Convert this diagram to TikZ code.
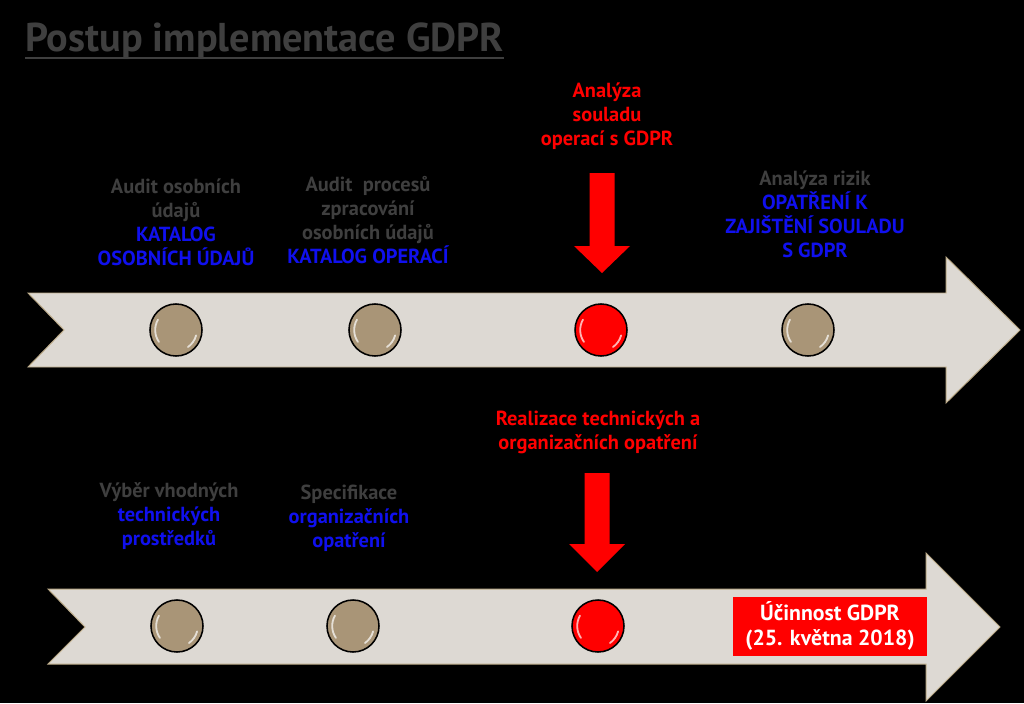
\documentclass[tikz,border=0pt]{standalone}
\usepackage{fontspec}
\setmainfont{PT Sans}
\usetikzlibrary{positioning,calc}
\definecolor{gdprgray}{HTML}{3F3F3F}
\definecolor{gdprblue}{HTML}{1010EE}
\definecolor{gdprred}{HTML}{FF0000}
\definecolor{bandfill}{HTML}{DDD9D3}
\definecolor{bandedge}{HTML}{BBAA88}
\definecolor{knobtan}{HTML}{A99577}
\tikzset{
  bandbody/.style={fill=bandfill, draw=bandedge, line width=0.7pt},
  knob/.style={circle, minimum size=1.3cm, inner sep=0pt, draw=black,
    line width=1.1pt, fill=knobtan},
  knobshine/.style={white, opacity=0.7, line width=1.3pt, line cap=round},
  stepnote/.style={align=center, inner sep=0pt, text=gdprgray,
    font=\bfseries\fontsize{14.5}{17}\selectfont},
  rednote/.style={stepnote, text=gdprred},
  datebox/.style={fill=gdprred, text=white, align=center, inner sep=0pt,
    minimum width=4.825cm, minimum height=1.475cm,
    font=\bfseries\fontsize{15.5}{18}\selectfont},
  titletext/.style={inner sep=0pt, text=gdprgray,
    font=\bfseries\fontsize{28.6}{34}\selectfont},
  titlerule/.style={draw=gdprgray, line width=2pt}
}

\begin{document}
\begin{tikzpicture}[x=0.025cm, y=-0.025cm]
    \fill[black] (0,0) rectangle (1024,703);
    \useasboundingbox (0,0) rectangle (1024,703);
    % title
    \node[titletext, anchor=base west] (title) at (25,52) {Postup implementace GDPR};
    \draw[titlerule] ($(title.base west)+(0,6)$) -- ($(title.base east)+(0,6)$);
    % the two time bands
    \draw[bandbody] (28,293) -- (946,293) -- (946,257) -- (1020,330) -- (946,403)
      -- (946,367) -- (28,367) -- (64,330) -- cycle;
    \draw[bandbody] (48,589) -- (926,589) -- (926,553) -- (1000,627) -- (926,701)
      -- (926,664) -- (48,664) -- (85,627) -- cycle;
    % knobs
    \node[knob] (knobA1) at (176,330) {};
    \node[knob] (knobA2) at (375,330) {};
    \node[knob, fill=gdprred] (knobA3) at (601,330) {};
    \node[knob] (knobA4) at (808,330) {};
    \node[knob] (knobB1) at (177,626) {};
    \node[knob] (knobB2) at (353,626) {};
    \node[knob, fill=gdprred] (knobB3) at (598,626) {};
    \foreach \k in {knobA1,knobA2,knobA3,knobA4,knobB1,knobB2,knobB3} {
      \draw[knobshine] (\k.center) ++(150:0.52cm) arc[start angle=150, end angle=215, radius=0.52cm];
      \draw[knobshine] (\k.center) ++(-55:0.52cm) arc[start angle=-55, end angle=-15, radius=0.52cm];
    }
    % labels, first band
    \node[stepnote] (auditData) at (176,222)
      {Audit osobních\\údajů\\{\color{gdprblue}KATALOG}\\{\color{gdprblue}OSOBNÍCH ÚDAJŮ}};
    \node[stepnote] (auditProc) at (368,220)
      {Audit\ \ procesů\\zpracování\\osobních údajů\\{\color{gdprblue}KATALOG OPERACÍ}};
    \node[rednote] (compliance) at (607,116) {Analýza\\souladu\\operací s GDPR};
    \node[stepnote] (risks) at (815,214)
      {Analýza rizik\\{\color{gdprblue}OPATŘENÍ K}\\{\color{gdprblue}ZAJIŠTĚNÍ SOULADU}\\{\color{gdprblue}S GDPR}};
    % labels, second band
    \node[stepnote] (choice) at (169,516)
      {Výběr vhodných\\{\color{gdprblue}technických}\\{\color{gdprblue}prostředků}};
    \node[stepnote] (spec) at (349,518)
      {Specifikace\\{\color{gdprblue}organizačních}\\{\color{gdprblue}opatření}};
    \node[rednote] (realise) at (598,432)
      {Realizace technických a\\organizačních opatření};
    \node[datebox] (deadline) at (830,626) {Účinnost GDPR\\(25. května 2018)};
    % red drop arrows
    \foreach \cx/\ytop/\ybase/\ytip in {602/173/246/273, 597/473/544/572}
      \fill[gdprred] (\cx-12.5,\ytop) -- (\cx+12.5,\ytop) -- (\cx+12.5,\ybase)
        -- (\cx+28,\ybase) -- (\cx,\ytip) -- (\cx-28,\ybase) -- (\cx-12.5,\ybase) -- cycle;
  \end{tikzpicture}
\end{document}
